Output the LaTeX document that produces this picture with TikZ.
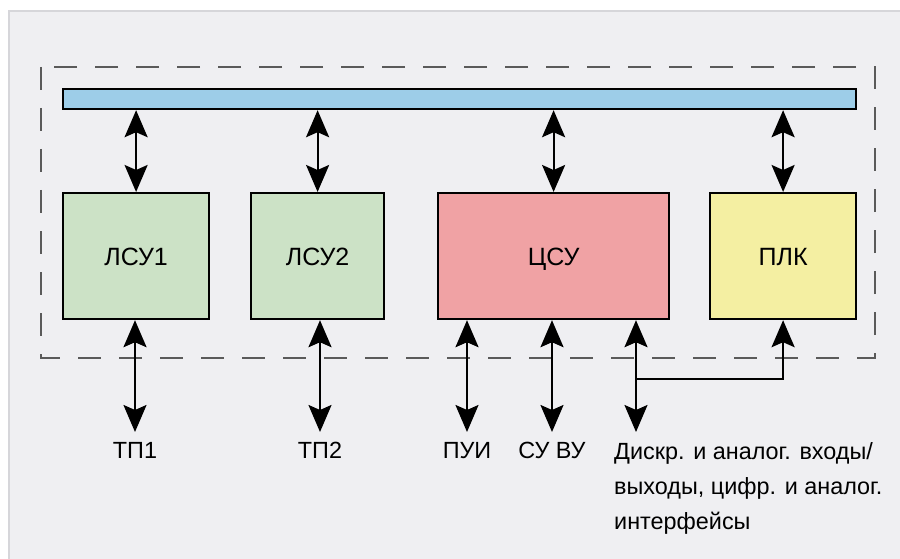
\documentclass[tikz,border=0pt]{standalone}
\usepackage{fontspec}
\setmainfont{Liberation Sans}
\usetikzlibrary{arrows.meta,calc}
\definecolor{bgpanel}{HTML}{EFEFF2}
\definecolor{panelrule}{HTML}{D6D6DA}
\definecolor{busblue}{HTML}{9DCDE8}
\definecolor{lsugreen}{HTML}{CCE2C6}
\definecolor{csupink}{HTML}{F0A2A4}
\definecolor{plkyellow}{HTML}{F4EFA2}
\definecolor{framegray}{HTML}{5A5A5A}
\tikzset{
  unitbox/.style={draw=black, line width=2.2pt, inner sep=0pt, anchor=north west,
    text height=18pt, text depth=0pt, font=\fontsize{25}{30}\selectfont},
  tip/.tip={Stealth[length=27pt,width=23pt,inset=5pt]},
  link/.style={line width=2.2pt, tip-tip},
  onehead/.style={line width=2.2pt, -tip},
  lbl/.style={font=\fontsize{23.4}{35}\selectfont, inner sep=0pt},
}
\begin{document}
\begin{tikzpicture}[x=1pt,y=-1pt]
  \useasboundingbox (0,0) rectangle (900,559);
  % panel background
  \fill[white] (0,0) rectangle (900,559);
  \fill[bgpanel] (9,11) rectangle (900,559);
  \draw[panelrule, line width=1.2pt] (9,559) -- (9,11) -- (900,11);
  % dashed system boundary
  \draw[framegray, line width=1.3pt, dash pattern=on 23pt off 18pt] (41,67) rectangle (875,358);
  % bus
  \node[unitbox, fill=busblue, minimum width=793pt, minimum height=20pt] (bus) at (62,88) {};
  % units
  \node[unitbox, fill=lsugreen, minimum width=146pt, minimum height=126pt] (lsu1) at (62,192) {ЛСУ1};
  \node[unitbox, fill=lsugreen, minimum width=133pt, minimum height=126pt] (lsu2) at (250,192) {ЛСУ2};
  \node[unitbox, fill=csupink, minimum width=231pt, minimum height=126pt] (csu) at (437,192) {ЦСУ};
  \node[unitbox, fill=plkyellow, minimum width=146pt, minimum height=126pt] (plk) at (709,192) {ПЛК};
  % bus links
  \foreach \u in {lsu1,lsu2,csu,plk}
    \draw[link] (bus.south -| \u.north) -- (\u.north);
  % labels below
  \node[lbl, anchor=north] (tp1) at (135,442) {ТП1};
  \node[lbl, anchor=north] (tp2) at (320,442) {ТП2};
  \node[lbl, anchor=north] (pui) at (467,442) {ПУИ};
  \node[lbl, anchor=north] (suvu) at (552,442) {СУ ВУ};
  \node[lbl, anchor=north west, align=left] (io) at (614,442)
    {Дискр. и аналог. входы/\\выходы, цифр. и аналог.\\интерфейсы};
  % lower links
  \coordinate (e1) at (135,432);
  \coordinate (e2) at (320,432);
  \coordinate (e3) at (467,432);
  \coordinate (e4) at (552,432);
  \coordinate (e5) at (636,432);
  \coordinate (tee) at (636,379);
  \draw[link] (lsu1.south -| e1) -- (e1);
  \draw[link] (lsu2.south -| e2) -- (e2);
  \draw[link] (csu.south -| e3) -- (e3);
  \draw[link] (csu.south -| e4) -- (e4);
  \draw[link] (csu.south -| e5) -- (e5);
  \draw[onehead] (tee) -| (plk.south);
\end{tikzpicture}
\end{document}
